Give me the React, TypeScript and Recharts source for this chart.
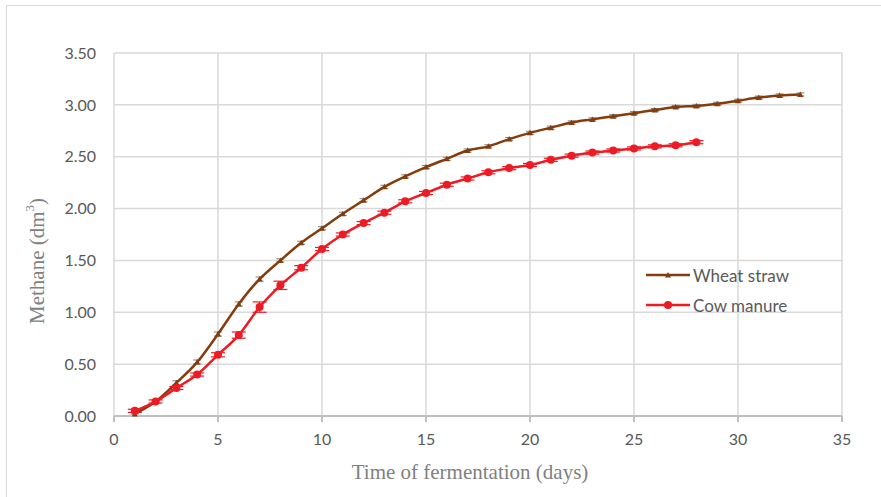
import React from 'react';
import { LineChart, Line, XAxis, YAxis, CartesianGrid, ErrorBar, Label } from 'recharts';

const days = [1, 2, 3, 4, 5, 6, 7, 8, 9, 10, 11, 12, 13, 14, 15, 16, 17, 18, 19, 20, 21, 22, 23, 24, 25, 26, 27, 28, 29, 30, 31, 32, 33];
const wheatStraw = [0.02, 0.14, 0.32, 0.52, 0.79, 1.08, 1.32, 1.50, 1.67, 1.81, 1.95, 2.08, 2.21, 2.31, 2.40, 2.48, 2.56, 2.60, 2.67, 2.73, 2.78, 2.83, 2.86, 2.89, 2.92, 2.95, 2.98, 2.99, 3.01, 3.04, 3.07, 3.09, 3.10];
const wheatErr = [0.01, 0.015, 0.02, 0.02, 0.02, 0.02, 0.02, 0.015, 0.015, 0.015, 0.015, 0.015, 0.015, 0.015, 0.015, 0.015, 0.015, 0.015, 0.015, 0.015, 0.015, 0.015, 0.015, 0.015, 0.015, 0.015, 0.015, 0.015, 0.015, 0.015, 0.015, 0.015, 0.015];
const cowManure = [0.05, 0.14, 0.27, 0.40, 0.59, 0.78, 1.05, 1.26, 1.43, 1.61, 1.75, 1.86, 1.96, 2.07, 2.15, 2.23, 2.29, 2.35, 2.39, 2.42, 2.47, 2.51, 2.54, 2.56, 2.58, 2.60, 2.61, 2.64];
const cowErr = [0.015, 0.015, 0.015, 0.015, 0.02, 0.03, 0.05, 0.04, 0.02, 0.015, 0.015, 0.015, 0.015, 0.015, 0.015, 0.015, 0.015, 0.015, 0.015, 0.015, 0.015, 0.015, 0.015, 0.015, 0.015, 0.015, 0.015, 0.015];
const xTicks = [0, 5, 10, 15, 20, 25, 30, 35];
const yTicks = [0, 0.5, 1, 1.5, 2, 2.5, 3, 3.5];
const seriesNames = ['Wheat straw', 'Cow manure'];

const BROWN = '#843C0C';
const RED = '#ED1C24';

const data = days.map((d, i) => ({
  day: d,
  wheat: wheatStraw[i],
  wheatErr: wheatErr[i],
  cow: cowManure[i],
  cowErr: cowErr[i],
}));

const Triangle = (props: any) => {
  const { cx, cy, key } = props;
  if (cx == null || cy == null) return null;
  return <path key={key} d={`M${cx},${cy - 3} L${cx + 3},${cy + 2.5} L${cx - 3},${cy + 2.5} Z`} fill={BROWN} />;
};

const YTitle = () => {
  const x = 37;
  const y = 261;
  return (
    <text
      x={x}
      y={y}
      transform={`rotate(-90, ${x}, ${y})`}
      textAnchor="middle"
      dominantBaseline="central"
      fontFamily="'Liberation Serif', serif"
      fontSize={21}
      fill="#808080"
    >
      Methane (dm<tspan dy={-8} fontSize={13}>3</tspan><tspan dy={8}>)</tspan>
    </text>
  );
};

// legend drawn as an overlay so it doesn't eat into the plot area
const ChartLegend = () => (
  <div style={{ position: 'absolute', left: 645, top: 260, fontFamily: 'Lato, sans-serif', fontSize: 17, color: '#595959' }}>
    {[
      { name: seriesNames[0], color: BROWN, tri: true },
      { name: seriesNames[1], color: RED, tri: false },
    ].map((item) => (
      <div key={item.name} style={{ display: 'flex', alignItems: 'center', height: 30 }}>
        <svg width={48} height={12}>
          <line x1={1} y1={6} x2={45} y2={6} stroke={item.color} strokeWidth={2.5} />
          {item.tri ? (
            <path d="M23,3 L26,8.5 L20,8.5 Z" fill={item.color} />
          ) : (
            <circle cx={23} cy={6} r={4} fill={item.color} />
          )}
        </svg>
        <span>{item.name}</span>
      </div>
    ))}
  </div>
);

export default function App() {
  return (
    <div style={{ position: 'absolute', left: 0, top: 0, width: 881, height: 497, overflow: 'hidden', background: '#fff' }}>
      <div style={{ position: 'absolute', left: 6, top: 5, width: 900, height: 520, border: '1.5px solid #d9d9d9' }} />
      <LineChart width={881} height={497} data={data} margin={{ top: 53, right: 39, left: 0, bottom: 0 }}>
        <CartesianGrid stroke="#d9d9d9" strokeWidth={1.5} />
        <XAxis
          dataKey="day"
          type="number"
          domain={[0, 35]}
          ticks={xTicks}
          height={81}
          stroke="#bfbfbf"
          strokeWidth={2}
          tickSize={6}
          tickMargin={12}
          tick={{ fill: '#595959', fontFamily: 'Lato, sans-serif', fontSize: 16 }}
        >
          <Label
            value="Time of fermentation (days)"
            position="insideBottom"
            offset={18}
            dx={-8}
            style={{ fill: '#808080', fontFamily: "'Liberation Serif', serif", fontSize: 21 }}
          />
        </XAxis>
        <YAxis
          type="number"
          domain={[0, 3.5]}
          ticks={yTicks}
          width={114}
          axisLine={false}
          tickLine={false}
          tickMargin={12}
          tickFormatter={(v: number) => v.toFixed(2)}
          tick={{ fill: '#595959', fontFamily: 'Lato, sans-serif', fontSize: 16 }}
        >
          <Label content={<YTitle />} />
        </YAxis>
        <Line
          type="monotone"
          dataKey="wheat"
          name={seriesNames[0]}
          stroke={BROWN}
          strokeWidth={2.5}
          dot={<Triangle />}
          activeDot={false}
          isAnimationActive={false}
        >
          <ErrorBar dataKey="wheatErr" width={4} stroke="#7f7f7f" strokeWidth={1} direction="y" />
        </Line>
        <Line
          type="monotone"
          dataKey="cow"
          name={seriesNames[1]}
          stroke={RED}
          strokeWidth={2.5}
          dot={{ r: 4, fill: RED, stroke: RED, strokeWidth: 0 }}
          activeDot={false}
          isAnimationActive={false}
        >
          <ErrorBar dataKey="cowErr" width={7} stroke={RED} strokeWidth={1.2} direction="y" />
        </Line>
      </LineChart>
      <ChartLegend />
    </div>
  );
}
